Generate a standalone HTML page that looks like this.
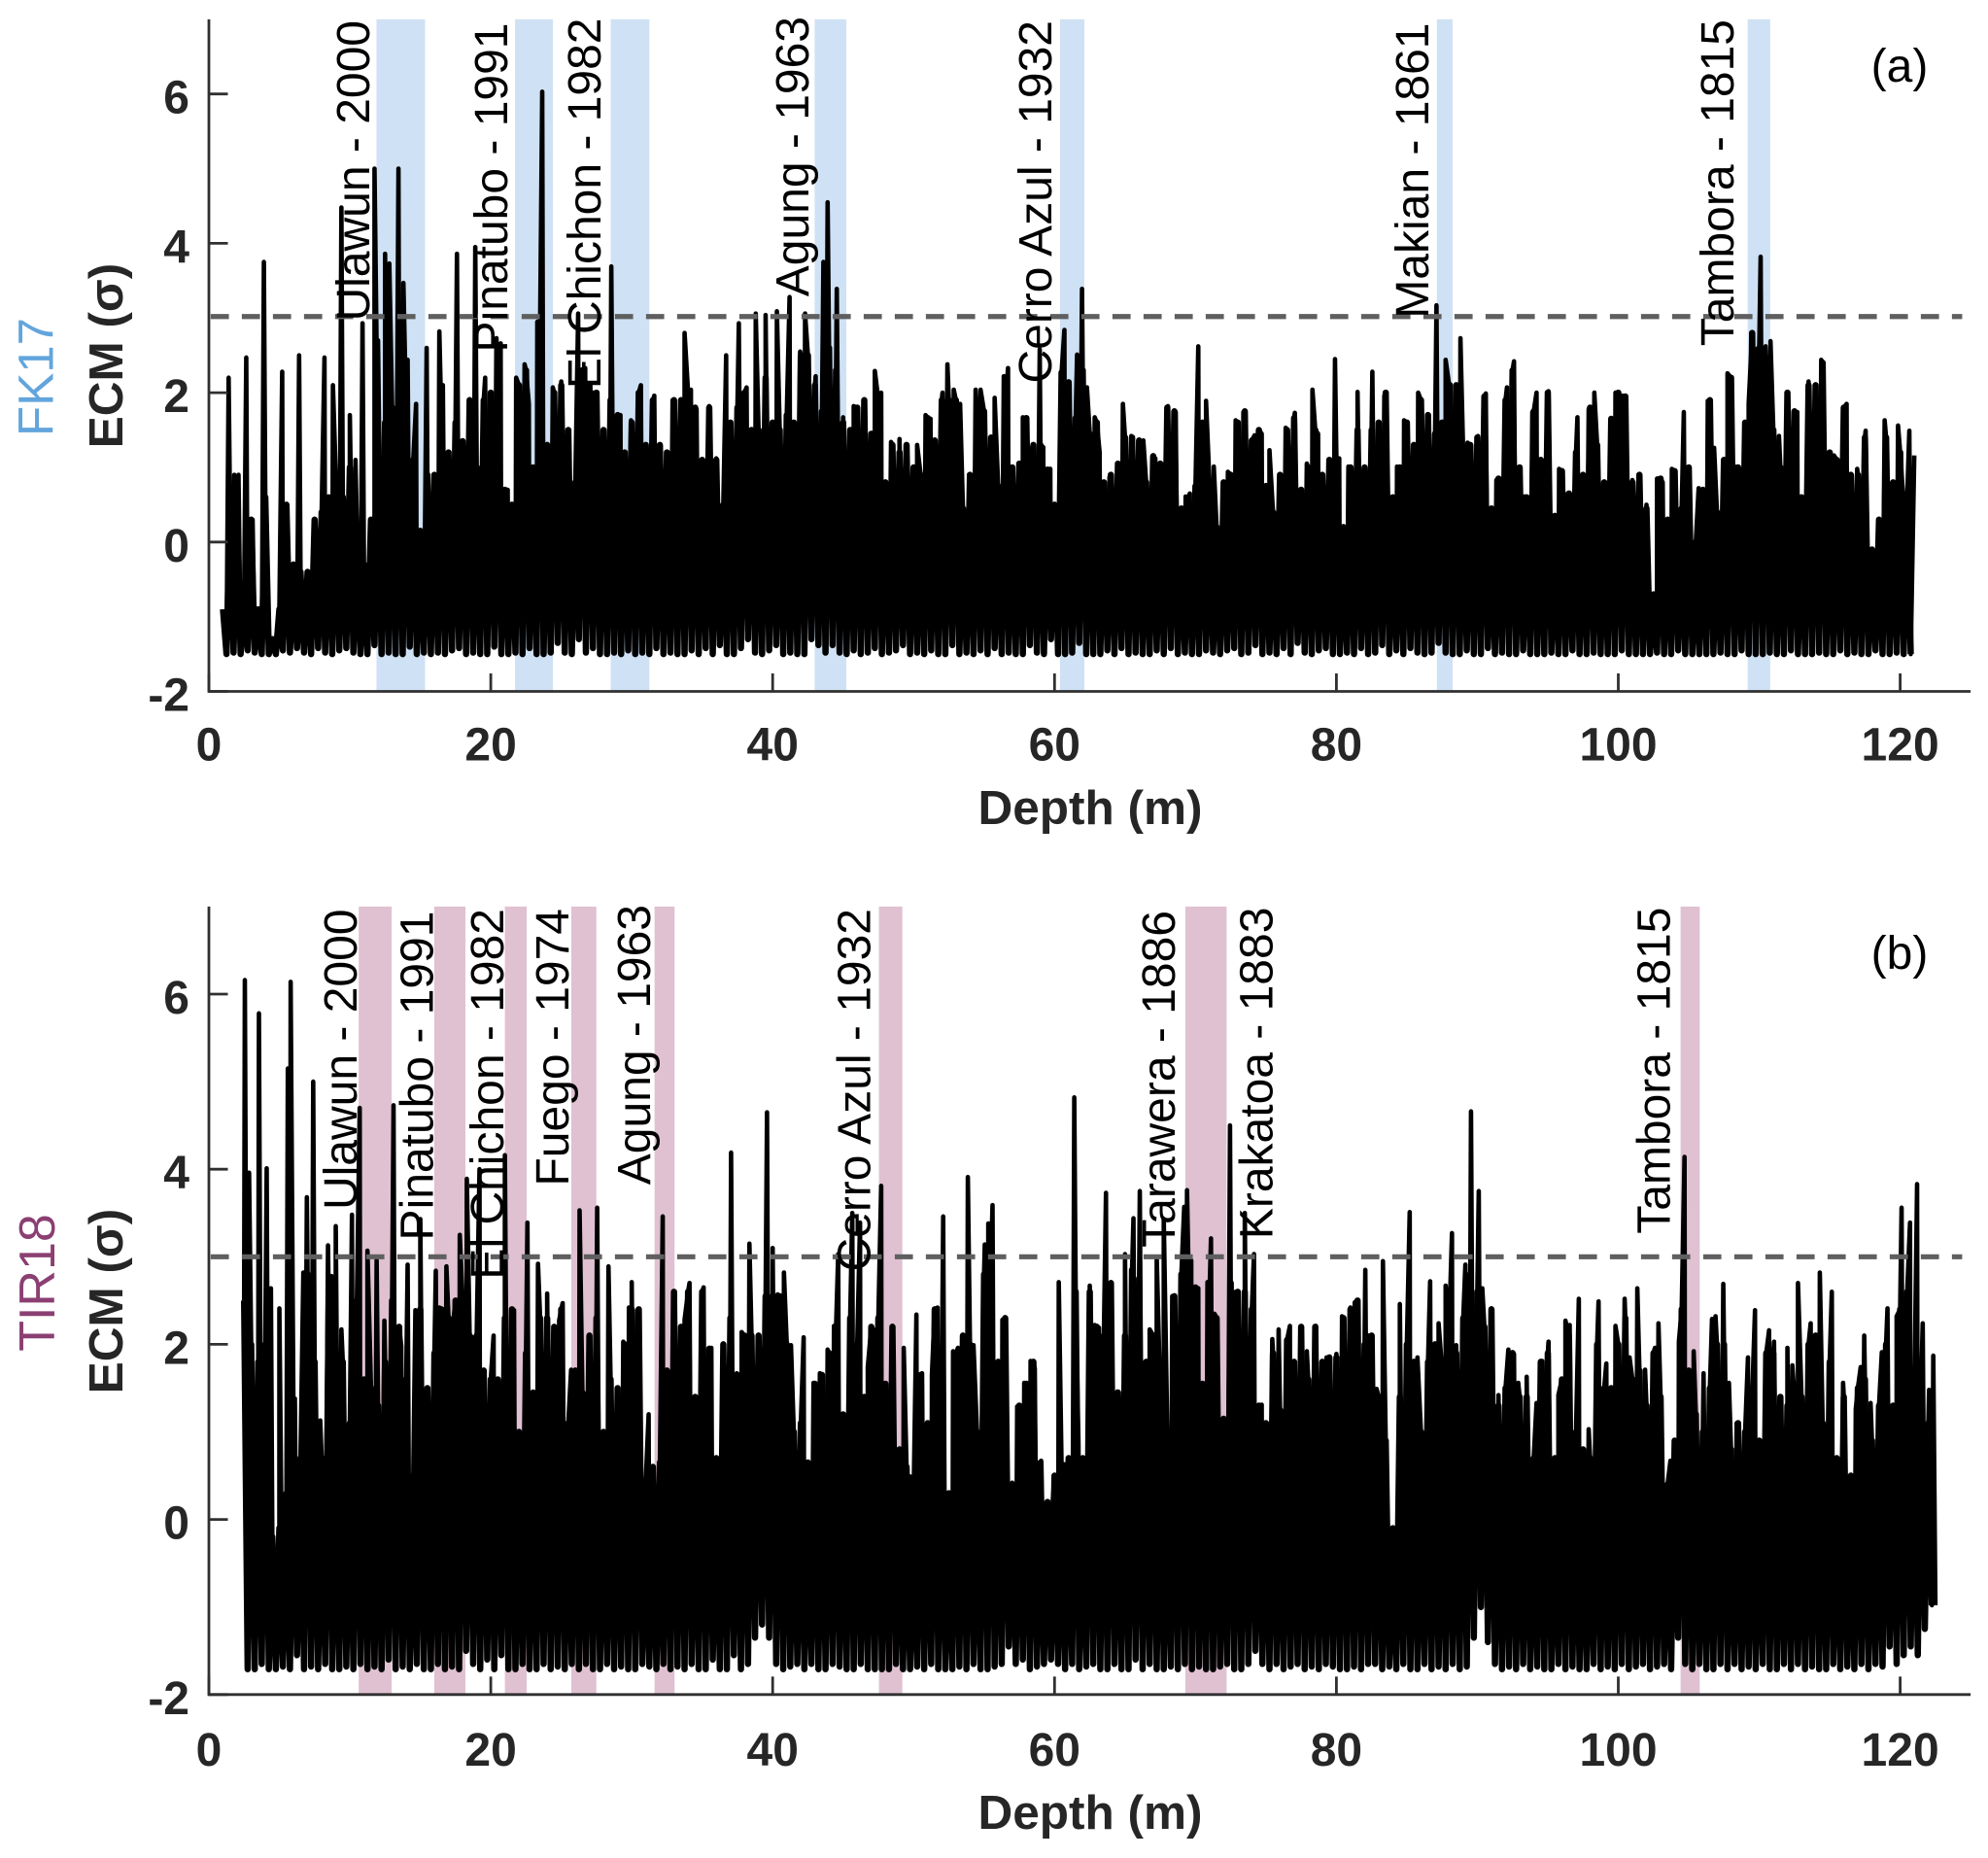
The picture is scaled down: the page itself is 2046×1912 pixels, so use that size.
<!DOCTYPE html>
<html lang="en">
<head>
<meta charset="utf-8">
<title>ECM depth profiles FK17 and TIR18</title>
<style>
html,body{margin:0;padding:0;background:#fff;}
svg{display:block;font-family:"Liberation Sans",sans-serif;}
.tick{font-size:48px;font-weight:bold;fill:#262626;}
.axt{font-size:49.5px;font-weight:bold;fill:#262626;}
.ann{font-size:48px;fill:#000;}
</style>
</head>
<body>
<svg id="chart" xmlns="http://www.w3.org/2000/svg" width="2046" height="1912" viewBox="0 0 2046 1912">
  <rect x="0" y="0" width="2046" height="1912" fill="#fff"/>
  <g id="panel-a"></g>
  <g id="panel-b"></g>

  <g>
    <text class="ann" text-anchor="end" transform="translate(380,21) rotate(-90)">Ulawun - 2000</text>
    <text class="ann" text-anchor="end" transform="translate(522,23.5) rotate(-90)">Pinatubo - 1991</text>
    <text class="ann" text-anchor="end" transform="translate(618,18.5) rotate(-90)">El Chichon - 1982</text>
    <text class="ann" text-anchor="end" transform="translate(832,17) rotate(-90)">Agung - 1963</text>
    <text class="ann" text-anchor="end" transform="translate(1082,21) rotate(-90)">Cerro Azul - 1932</text>
    <text class="ann" text-anchor="end" transform="translate(1470,23.5) rotate(-90)">Makian - 1861</text>
    <text class="ann" text-anchor="end" transform="translate(1784,20) rotate(-90)">Tambora - 1815</text>
    <text class="ann" text-anchor="middle" x="1955" y="84">(a)</text>
    <text class="axt" text-anchor="middle" x="1122" y="848">Depth (m)</text>
    <text class="axt" text-anchor="middle" transform="translate(126,366) rotate(-90)">ECM (σ)</text>
    <text class="ann" style="fill:#62a5dc;font-size:51px" text-anchor="middle" transform="translate(54.5,388) rotate(-90)">FK17</text>
  </g>

  <g>
    <text class="ann" text-anchor="end" transform="translate(367,935.5) rotate(-90)">Ulawun - 2000</text>
    <text class="ann" text-anchor="end" transform="translate(445.5,937.5) rotate(-90)">Pinatubo - 1991</text>
    <text class="ann" text-anchor="end" transform="translate(518,935) rotate(-90)">El Chichon - 1982</text>
    <text class="ann" text-anchor="end" transform="translate(585,935) rotate(-90)">Fuego - 1974</text>
    <text class="ann" text-anchor="end" transform="translate(669,931) rotate(-90)">Agung - 1963</text>
    <text class="ann" text-anchor="end" transform="translate(895.5,935) rotate(-90)">Cerro Azul - 1932</text>
    <text class="ann" text-anchor="end" transform="translate(1209,937) rotate(-90)">Tarawera - 1886</text>
    <text class="ann" text-anchor="end" transform="translate(1309.4,933.6) rotate(-90)">Krakatoa - 1883</text>
    <text class="ann" text-anchor="end" transform="translate(1718.5,933.6) rotate(-90)">Tambora - 1815</text>
    <text class="ann" text-anchor="middle" x="1955" y="997">(b)</text>
    <text class="axt" text-anchor="middle" x="1122" y="1882">Depth (m)</text>
    <text class="axt" text-anchor="middle" transform="translate(126,1339) rotate(-90)">ECM (σ)</text>
    <text class="ann" style="fill:#8b3f72;font-size:52px" text-anchor="middle" transform="translate(56,1320) rotate(-90)">TIR18</text>
  </g>
</svg>
<script>
const xTickValues = [0, 20, 40, 60, 80, 100, 120];
const yTickValues = [-2, 0, 2, 4, 6];

const fkThreshold = 3.02;
const fkBandStarts = [11.89, 21.72, 28.51, 42.98, 60.39, 87.13, 109.18];
const fkBandEnds = [15.34, 24.41, 31.25, 45.23, 62.12, 88.25, 110.78];
const fkDepthStart = 1.0;
const fkDepthStep = 0.5;
const fkBasePeaks = [
-.9,.4,.5,-.7,.3,-.9,.6,-1.3,-.9,.5,-.3,-.4,-.4,.3,.4,.6,.9,.6,1,.2,-.3,.3,1,1.6,
1.8,1.9,1.7,1.1,.15,.9,.9,1.6,1.2,1.6,1.35,1.9,1,1.9,2,2.2,.7,.5,2.1,2.3,1,2.9,1.3,2,2.1,1.5,.8,2.3,2.1,2,1.5,1.9,1.7,1.2,1.6,2,1.3,1.9,1.3,1.2,1.9,1.9,2,1.8,1.1,1.8,1.1,.5,1.6,1.8,2,1.5,1.5,2.2,1.6,1.5,1.7,1.6,2.5,2.5,2.1,1.75,2.6,2.3,1.6,1.5,1.8,1.9,1.45,
1.9,.8,1.3,1.2,1.3,1,.9,1.66,1.36,1.9,1.9,1.9,.45,.9,1.7,1.75,1.4,.75,1.8,1,1.05,1.66,1.3,1.3,.97,.5,2.27,2.14,1.66,2.3,1.45,1.6,.8,.9,1.05,1.4,1.4,1.36,.8,1.15,1.05,1.8,1.75,.45,.6,.75,1.6,.75,.2,.8,.9,1.6,1.75,1.36,1.5,.75,.4,.9,1.5,1.66,.7,1,1.5,.9,1.1,1.1,.2,1,1.5,
1,1.5,1.6,2,.6,1,1.6,1.3,1.9,1.7,1.45,1.6,2.1,2.1,1.15,1.3,1.4,1.95,.45,.85,1.9,2.3,1,.6,1.75,1.1,2,.35,.95,.65,1.2,.9,1.8,1.3,.8,1.65,2,1.95,.8,.9,.45,-.7,.85,.3,.95,.45,1,0,.7,1.9,.4,1.1,2.2,1,1.6,2.8,2.6,2.4,1.5,1,2,1.75,.6,2.1,2.1,2.4,1.2,1.1,1.8,
.9,.9,1.4,-.1,.3,1.4,.8,1.2,.6
];
const fkBaseTroughs = [
-1.5,-1.48,-1.5,-1.45,-1.48,-1.5,-1.5,-1.5,-1.45,-1.48,
-1.42,-1.48,-1.5,-1.42,-1.48,-1.5,-1.45,-1.42,-1.48,-1.5,
-1.5,-1.38,-1.5,-1.48,-1.5,-1.5,-1.4,-1.5,-1.48,-1.5,
-1.48,-1.5,-1.45,-1.42,-1.5,-1.48,-1.5,-1.5,-1.4,-1.5,
-1.5,-1.48,-1.5,-1.42,-1.5,-1.5,-1.48,-1.35,-1.48,-1.5,
-1.3,-1.48,-1.42,-1.5,-1.5,-1.48,-1.5,-1.45,-1.5,-1.48,
-1.5,-1.42,-1.5,-1.48,-1.5,-1.5,-1.45,-1.5,-1.42,-1.5,
-1.38,-1.5,-1.5,-1.42,-1.3,-1.48,-1.5,-1.45,-1.38,-1.5,
-1.48,-1.5,-1.5,-1.3,-1.38,-1.48,-1.38,-1.48,-1.5,-1.45,
-1.5,-1.48,-1.42,-1.5,-1.48,-1.45,-1.38,-1.5,-1.48,-1.5,
-1.45,-1.5,-1.5,-1.38,-1.5,-1.48,-1.5,-1.45,-1.5,-1.42,
-1.5,-1.48,-1.5,-1.5,-1.38,-1.48,-1.5,-1.3,-1.5,-1.5,
-1.48,-1.35,-1.5,-1.5,-1.5,-1.45,-1.5,-1.42,-1.5,-1.48,
-1.5,-1.5,-1.45,-1.5,-1.42,-1.5,-1.48,-1.5,-1.5,-1.45,
-1.48,-1.5,-1.45,-1.42,-1.5,-1.48,-1.38,-1.5,-1.48,-1.5,
-1.42,-1.5,-1.35,-1.48,-1.5,-1.45,-1.42,-1.5,-1.5,-1.48,
-1.5,-1.42,-1.5,-1.48,-1.38,-1.5,-1.45,-1.5,-1.42,-1.48,
-1.5,-1.48,-1.35,-1.48,-1.5,-1.5,-1.45,-1.5,-1.5,-1.42,
-1.5,-1.48,-1.5,-1.5,-1.45,-1.5,-1.5,-1.5,-1.48,-1.5,
-1.5,-1.45,-1.5,-1.5,-1.48,-1.5,-1.5,-1.5,-1.45,-1.5,
-1.5,-1.5,-1.5,-1.48,-1.5,-1.5,-1.45,-1.5,-1.5,-1.5,
-1.5,-1.5,-1.48,-1.5,-1.5,-1.45,-1.5,-1.5,-1.5,-1.48,
-1.5,-1.5,-1.45,-1.5,-1.5,-1.5,-1.48,-1.5,-1.5,-1.45,
-1.5,-1.48,-1.5,-1.5,-1.45,-1.5,-1.5,-1.48,-1.5,-1.5
];
const fkSpikeDepths = [
1.4,1.8,2.1,2.65,3.1,3.9,5.2,6.4,8.2,8.8,9.4,10,10.4,10.9,11.75,12,12.5,12.8,13.45,13.8,14.1,14.7,15.45,16.35,16.6,17.6,18,18.65,18.9,19.6,
20.4,20.7,21.2,21.8,22.4,22.7,23.3,23.65,24.4,25,26.2,26.7,27.3,28.55,29.2,29.95,30.65,31.6,32.9,33.75,34.2,34.6,35.5,36,36.7,37.6,38.15,38.8,39.5,40.3,
41.2,41.95,42.3,43.05,43.6,43.9,44.55,45,45.75,46.5,47.25,47.7,48.4,49,49.5,50.25,50.85,51.2,52.05,52.4,52.85,53.3,54.4,54.75,55.75,56.4,56.7,57.75,58.3,58.95,
59.2,59.7,60.7,61,61.6,61.95,62.3,62.85,63.2,63.9,64.85,65.45,66.3,67.15,68.05,68.6,69.3,69.6,70.2,70.75,71.3,72.3,72.85,73.4,74.2,74.7,75.25,76.4,77.05,77.9,
78.3,78.7,79.5,79.9,80.2,80.85,81.5,82.55,83.4,84.3,84.8,85.8,86.45,87.1,87.75,88.1,88.8,89.3,90.05,90.6,91.35,92.1,92.6,93.35,93.9,94.2,95.05,95.8,96.4,97.1,
97.9,98.3,99.8,100.3,101,101.5,102,102.75,103.15,103.8,104.65,105.15,105.7,106.35,106.8,107.75,108.4,109.25,109.5,109.8,110.1,110.45,110.8,111.4,112,112.7,113.5,114,114.4,115.3,
116.2,116.95,117.55,118.9,119.85,120.2,120.65,121
];
const fkSpikeValues = [
2.2,.9,.9,2.47,.3,3.75,2.28,2.5,2.47,2.1,4.48,1.7,1.1,2.93,5,2.7,3.86,3.73,5,3.47,2.44,1.85,2.6,2.82,2.1,3.86,1.3,1.85,3.95,2.2,
2.73,2.66,.7,2.2,2.38,1.85,2.95,6.03,2.07,2.15,3.06,2.33,2,3.69,1.7,1.63,2.1,1.96,1.9,2.8,2.04,1.78,1.82,1.12,2.5,2.93,2.07,3.06,3.04,3.09,
3.28,2.55,3.06,2.22,3.75,4.55,3.39,1.67,1.82,1.89,2.29,2,1.34,1.38,1.3,1.3,1.7,1.65,2,2.38,2.04,1.85,2.04,2.04,1.93,2.22,2.33,1.67,1.23,2.58,
1.27,.98,2.84,2.11,2.51,3.39,2.07,1.67,1.2,.87,1.85,1.42,1.36,1.12,1.82,1.74,.61,.65,2.62,1.89,1.01,.94,1.63,1.74,1.43,1.45,1.23,1.53,1.73,1.05,
2.04,1.45,1.09,2.45,1.12,1.01,2.01,2.28,1.96,1.01,1.63,2,1.71,3.17,2.44,2.11,2.73,1.33,1.42,1.99,.83,2.07,2.42,.61,1.74,2,2.02,.98,.65,1.67,
1.78,2,2,1.96,.83,.89,.5,.85,.8,.98,1.74,-.05,.72,1.89,1.26,2.26,1.01,1.85,2.8,2.58,3.82,2.62,2.69,1.42,2.01,1.74,2.15,2.07,2.44,1.16,
1.85,.98,1.49,1.63,1.56,.65,1.49,1.16
];

const tirThreshold = 3.0;
const tirBandStarts = [10.63, 15.99, 21.0, 25.71, 31.62, 47.54, 69.28, 104.42];
const tirBandEnds = [12.97, 18.2, 22.55, 27.49, 33.04, 49.2, 72.21, 105.78];
const tirDepthStart = 2.5;
const tirDepthStep = 0.5;
const tirBasePeaks = [
2.5,2,1.8,2,-.2,-.1,.3,1.2,.7,2.8,1.8,.7,2.5,1.2,1.8,1.1,2.5,1.6,1.5,1.3,1.8,
2.5,2.2,1.6,.5,2.4,1.5,1.9,2.4,2.3,2.5,2.5,2.1,2.1,1.7,1.6,1.6,2.3,2.4,1,1.9,1.45,2.3,2.3,2.2,2.4,1.1,1.7,1.45,2.1,2.3,1,1.6,1.5,2,2.4,2.4,.45,.6,.65,1.7,2.6,2.2,2.6,1.4,2.6,1.95,.7,2,2.3,1.65,2.1,2.1,2.1,2.55,2.55,2.55,2,1,1.1,.65,1.55,1.65,1.9,2.2,1.2,2.3,2,1.4,2.2,
2.3,1.55,2.2,.8,.6,.25,1.65,1.1,2.4,1.5,.3,1.9,2.1,2,1,2.8,3,1.8,2.3,.4,1.3,1.55,1.8,.65,.2,.5,.6,.7,2.6,.7,2.6,2.2,2.1,2.7,1.45,2.1,2.85,2.75,1.8,2.1,1.4,1,2.55,2.8,2.9,2.65,1.55,2.6,2.3,1.15,2.7,2.6,2.6,2.4,1.3,1.1,1.9,1.25,2.05,1.8,2.2,1.6,2.2,1.8,1.85,1.85,2.3,2.4,2.5,
2,2.1,1.4,.9,-.1,1.4,2,1.8,1,1.8,2,1.7,2.2,1.9,2.3,2.8,2.6,2.2,2.4,1.3,1.5,1.9,1.4,1.4,.7,1.8,1.9,.7,1.6,2.1,1,.8,.7,2,1.5,1.5,2,2.3,1.6,1.7,1.3,1.9,1.4,.4,.9,2.4,1.7,1.2,1,1.5,2,2,.8,1.1,1,1.4,.9,1.9,1.9,1.4,1.3,1.4,1.4,2,2.1,1.1,1.8,.7,1.4,.5,1.5,1.6,.9,1.3,2,1.3,2.4,2.6,1.3,1.6,1.1
];
const tirBaseTroughs = [
-1.71,-1.71,-1.65,-1.71,-1.71,-1.68,-1.71,-1.55,-1.71,-1.68,
-1.71,-1.65,-1.71,-1.71,-1.68,-1.71,-1.65,-1.71,-1.68,-1.71,
-1.6,-1.71,-1.68,-1.71,-1.65,-1.71,-1.71,-1.65,-1.71,-1.68,
-1.71,-1.5,-1.65,-1.71,-1.6,-1.71,-1.55,-1.71,-1.71,-1.65,
-1.71,-1.71,-1.65,-1.71,-1.68,-1.71,-1.65,-1.71,-1.65,-1.71,
-1.71,-1.65,-1.71,-1.68,-1.71,-1.71,-1.65,-1.68,-1.71,-1.65,
-1.71,-1.68,-1.71,-1.65,-1.71,-1.71,-1.6,-1.71,-1.71,-1.55,
-1.71,-1.65,-1.35,-1.2,-1.35,-1.65,-1.71,-1.68,-1.65,-1.71,
-1.65,-1.71,-1.71,-1.65,-1.68,-1.71,-1.71,-1.65,-1.71,-1.71,
-1.71,-1.71,-1.65,-1.71,-1.71,-1.68,-1.71,-1.65,-1.71,-1.71,
-1.71,-1.68,-1.71,-1.65,-1.71,-1.71,-1.68,-1.65,-1.45,-1.65,
-1.6,-1.71,-1.68,-1.65,-1.6,-1.65,-1.71,-1.65,-1.71,-1.68,
-1.65,-1.71,-1.71,-1.65,-1.71,-1.71,-1.6,-1.71,-1.65,-1.71,
-1.71,-1.68,-1.71,-1.65,-1.71,-1.68,-1.71,-1.71,-1.68,-1.65,
-1.71,-1.71,-1.65,-1.5,-1.65,-1.71,-1.65,-1.71,-1.68,-1.65,
-1.71,-1.68,-1.71,-1.65,-1.68,-1.71,-1.71,-1.68,-1.71,-1.65,
-1.65,-1.71,-1.68,-1.71,-1.65,-1.71,-1.71,-1.65,-1.71,-1.68,
-1.71,-1.65,-1.71,-1.68,-1.35,-1,-1.4,-1.65,-1.71,-1.68,
-1.71,-1.65,-1.71,-1.68,-1.71,-1.71,-1.65,-1.71,-1.68,-1.71,
-1.71,-1.65,-1.71,-1.68,-1.71,-1.65,-1.71,-1.68,-1.65,-1.71,
-1.68,-1.65,-1.71,-1.35,-1.65,-1.71,-1.65,-1.71,-1.71,-1.65,
-1.71,-1.65,-1.71,-1.68,-1.71,-1.65,-1.71,-1.71,-1.65,-1.71,
-1.65,-1.71,-1.68,-1.71,-1.71,-1.65,-1.71,-1.68,-1.71,-1.65,
-1.71,-1.65,-1.68,-1.45,-1.65,-1.55,-1.45,-1.55,-1.25,-.98
];
const tirSpikeDepths = [
2.55,2.85,3.55,4.1,4.4,5,5.6,5.8,6.1,6.7,6.95,7.4,7.9,8.45,8.7,9,9.4,10.15,10.7,11.25,11.9,12.45,13.1,13.65,14.1,14.65,15,16.1,16.35,16.85,
17.25,17.8,18.3,18.7,19.2,20.2,21,21.65,22.1,22.6,23.35,24,24.45,24.85,25.1,25.7,26.3,26.7,27,27.55,28.35,28.95,29.4,29.8,30,30.4,31.2,32.2,33.05,33.75,
34.1,34.5,35.1,35.65,36.5,37.05,37.45,37.8,38.35,39,39.6,40,40.35,40.8,41.3,42.2,42.9,43.35,43.9,44.35,44.65,45.65,46.2,46.75,47.15,47.7,48.5,49.3,49.75,50.2,
50.6,51.3,51.7,52.1,52.8,53.15,53.85,54.25,55.05,55.3,55.6,56.3,57,57.35,57.85,58.3,58.6,59.05,59.85,60.3,60.7,61.4,61.7,62.5,62.85,63.15,63.65,64,64.45,65,
65.6,66.05,66.75,67.25,67.75,68.35,69.2,69.4,69.7,70.2,70.85,71.1,71.35,71.85,72.45,72.85,73.5,74.15,74.7,75.15,75.45,75.9,76.7,77.45,77.9,78.55,79.3,80,80.4,81,
81.3,82.05,82.25,82.85,83.3,84.5,85.2,85.75,86.65,87.25,87.75,88.2,88.5,89.15,89.55,90.1,90.35,91,91.5,92.2,92.6,92.9,93.5,94.2,94.6,95.05,95.75,96.25,96.55,97.2,
97.9,98.6,99.15,99.8,100.45,100.8,101.35,101.9,102.6,102.85,103.7,104.3,104.7,105.35,106.05,106.65,106.9,107.45,107.85,108.4,109.2,109.7,110.7,111.05,112,112.35,112.75,113.65,114.3,115.15,
115.95,116.5,116.85,117.2,117.45,117.9,118.7,119.1,119.75,120.1,120.7,121.2,121.6,122.05,122.35,122.5
];
const tirSpikeValues = [
6.16,3.96,5.78,4.01,2.64,2.41,5.15,6.14,1.38,2.82,3.68,5,1.13,3.13,2.78,3.35,2.17,3.48,4.7,3.07,2.96,2.27,4.73,1.98,2.91,2.39,3.43,2.84,2.42,2.89,
2.14,3.25,3.89,2.08,4,2.1,4.16,2.39,.99,3.39,2.92,2.58,2.14,2.27,2.47,1.71,3.53,1.43,2.08,3.56,2.89,1.24,2.03,2.42,2.71,2.39,1.2,3.46,2.6,2.28,
2.7,1.35,2.65,1.96,1.99,4.19,1.67,2.14,3.15,2.1,4.65,3.1,2.57,2.82,1.99,2.08,1.56,1.67,1.94,2.21,3.03,3.5,3.39,1.74,2.17,3.81,2.21,1.96,.49,2.34,
1.67,1.65,2.42,3.46,1.92,1.96,3.91,1.99,3.14,3.38,3.59,2.28,.42,1.29,1.56,1.81,1.72,.67,.16,2.71,.63,4.82,.85,2.67,2.22,2.19,3.73,2.71,1.46,3.03,
3.44,3.75,2.17,3,3.43,2.55,3.57,3.76,2.96,2.64,2.71,3.21,2.35,1.13,4.5,2.6,3.5,3.03,1.31,1.08,2.06,2.17,2.21,2.17,1.92,2.21,1.85,1.89,2.32,2.42,
2.48,2.85,2.1,1.49,2.95,2.46,3.51,1.85,2.72,2.24,2.67,3.27,1.99,2.91,4.66,3.75,2.64,2.41,1.42,1.94,1.89,1.56,1.63,1.33,1.81,2.03,1.42,2.27,2.22,2.52,
1.03,2.49,1.78,2.21,2.52,1.85,2.64,1.71,1.96,2.24,.67,2.03,4.14,1.92,1.67,2.29,2.32,2.69,1.56,1.1,1.85,2.39,2.16,2.03,1.96,1.76,2.7,2.24,2.82,2.6,
1.56,.49,1.26,1.74,2.1,1.33,1.91,2.41,2.32,3.56,3.39,3.83,2.24,1.48,1.87,-.98
];

const SVG_NS = 'http://www.w3.org/2000/svg';

function xScale(depth) {
  return 215 + depth * 14.505;
}

function makeYScale(zeroY, pxPerUnit) {
  return function (v) {
    return zeroY - v * pxPerUnit;
  };
}

function baseSeries(start, step, peaks, troughs) {
  const pts = [];
  const n = Math.min(peaks.length, troughs.length);
  for (let i = 0; i < n; i++) {
    const d = start + i * step;
    pts.push([d, peaks[i]]);
    pts.push([d + step / 2, troughs[i]]);
  }
  return pts;
}

function mergeSpikes(base, depths, values) {
  const spikes = depths.map(function (d, i) {
    return [d, values[i]];
  });
  return base.concat(spikes).sort(function (a, b) {
    return a[0] - b[0];
  });
}

function pathFrom(pts, y) {
  return pts.map(function (p, i) {
    return (i ? 'L' : 'M') + xScale(p[0]).toFixed(2) + ' ' + y(p[1]).toFixed(2);
  }).join('');
}

function drawPanel(root, cfg) {
  const y = cfg.y;
  const top = y(7);
  const bottom = y(-2);

  cfg.bandStarts.forEach(function (s, i) {
    const band = document.createElementNS(SVG_NS, 'rect');
    
    
    band.setAttribute('x', xScale(s));
    band.setAttribute('width', xScale(cfg.bandEnds[i]) - xScale(s));
    band.setAttribute('y', top);
    band.setAttribute('height', bottom - top);
    band.setAttribute('fill', cfg.bandColor);
    root.appendChild(band);
  });

  const base = baseSeries(cfg.start, cfg.step, cfg.peaks, cfg.troughs);

  const body = document.createElementNS(SVG_NS, 'path');
  
  
  body.setAttribute('d', pathFrom(base, y));
  body.setAttribute('fill', 'none');
  body.setAttribute('stroke', '#000');
  body.setAttribute('stroke-width', '6.5');
  body.setAttribute('stroke-linejoin', 'round');
  root.appendChild(body);

  const line = document.createElementNS(SVG_NS, 'path');
  
  
  line.setAttribute('d', pathFrom(mergeSpikes(base, cfg.spikeDepths, cfg.spikeValues), y));
  line.setAttribute('fill', 'none');
  line.setAttribute('stroke', '#000');
  line.setAttribute('stroke-width', '4.6');
  line.setAttribute('stroke-linejoin', 'round');
  root.appendChild(line);

  const dash = document.createElementNS(SVG_NS, 'line');
  
  
  dash.setAttribute('x1', xScale(0.13));
  dash.setAttribute('x2', xScale(124.4));
  dash.setAttribute('y1', y(cfg.threshold));
  dash.setAttribute('y2', y(cfg.threshold));
  dash.setAttribute('stroke', '#5f5f5f');
  dash.setAttribute('stroke-width', '5.2');
  dash.setAttribute('stroke-dasharray', '18.7 13.3');
  root.appendChild(dash);

  xTickValues.forEach(function (t) {
    const tick = document.createElementNS(SVG_NS, 'line');
    
    
    tick.setAttribute('x1', xScale(t));
    tick.setAttribute('x2', xScale(t));
    tick.setAttribute('y1', bottom);
    tick.setAttribute('y2', bottom - 18.5);
    tick.setAttribute('stroke', '#303030');
    tick.setAttribute('stroke-width', '2.8');
    root.appendChild(tick);

    const label = document.createElementNS(SVG_NS, 'text');
    
    
    label.setAttribute('class', 'tick');
    label.setAttribute('x', xScale(t));
    label.setAttribute('y', bottom + cfg.xLabelGap);
    label.setAttribute('text-anchor', 'middle');
    label.textContent = String(t);
    root.appendChild(label);
  });

  yTickValues.forEach(function (t) {
    const tick = document.createElementNS(SVG_NS, 'line');
    
    
    tick.setAttribute('x1', xScale(0));
    tick.setAttribute('x2', xScale(0) + 19.5);
    tick.setAttribute('y1', y(t));
    tick.setAttribute('y2', y(t));
    tick.setAttribute('stroke', '#303030');
    tick.setAttribute('stroke-width', '2.8');
    root.appendChild(tick);

    const label = document.createElementNS(SVG_NS, 'text');
    
    
    label.setAttribute('class', 'tick');
    label.setAttribute('x', 195);
    label.setAttribute('y', y(t) + 20);
    label.setAttribute('text-anchor', 'end');
    label.textContent = String(t);
    root.appendChild(label);
  });

  const yAxis = document.createElementNS(SVG_NS, 'line');
  
  
  yAxis.setAttribute('x1', xScale(0));
  yAxis.setAttribute('x2', xScale(0));
  yAxis.setAttribute('y1', top);
  yAxis.setAttribute('y2', bottom + 1.4);
  yAxis.setAttribute('stroke', '#303030');
  yAxis.setAttribute('stroke-width', '2.8');
  root.appendChild(yAxis);

  const xAxis = document.createElementNS(SVG_NS, 'line');
  
  
  xAxis.setAttribute('x1', xScale(0));
  xAxis.setAttribute('x2', xScale(125));
  xAxis.setAttribute('y1', bottom);
  xAxis.setAttribute('y2', bottom);
  xAxis.setAttribute('stroke', '#303030');
  xAxis.setAttribute('stroke-width', '2.8');
  root.appendChild(xAxis);
}

drawPanel(document.getElementById('panel-a'), {
  y: makeYScale(557.8, 76.85),
  bandColor: '#cfe1f4',
  threshold: fkThreshold,
  bandStarts: fkBandStarts,
  bandEnds: fkBandEnds,
  start: fkDepthStart,
  step: fkDepthStep,
  peaks: fkBasePeaks,
  troughs: fkBaseTroughs,
  spikeDepths: fkSpikeDepths,
  spikeValues: fkSpikeValues,
  xLabelGap: 71
});

drawPanel(document.getElementById('panel-b'), {
  y: makeYScale(1563.6, 90.1),
  bandColor: '#dfc1d1',
  threshold: tirThreshold,
  bandStarts: tirBandStarts,
  bandEnds: tirBandEnds,
  start: tirDepthStart,
  step: tirDepthStep,
  peaks: tirBasePeaks,
  troughs: tirBaseTroughs,
  spikeDepths: tirSpikeDepths,
  spikeValues: tirSpikeValues,
  xLabelGap: 73
});
</script>
</body>
</html>
